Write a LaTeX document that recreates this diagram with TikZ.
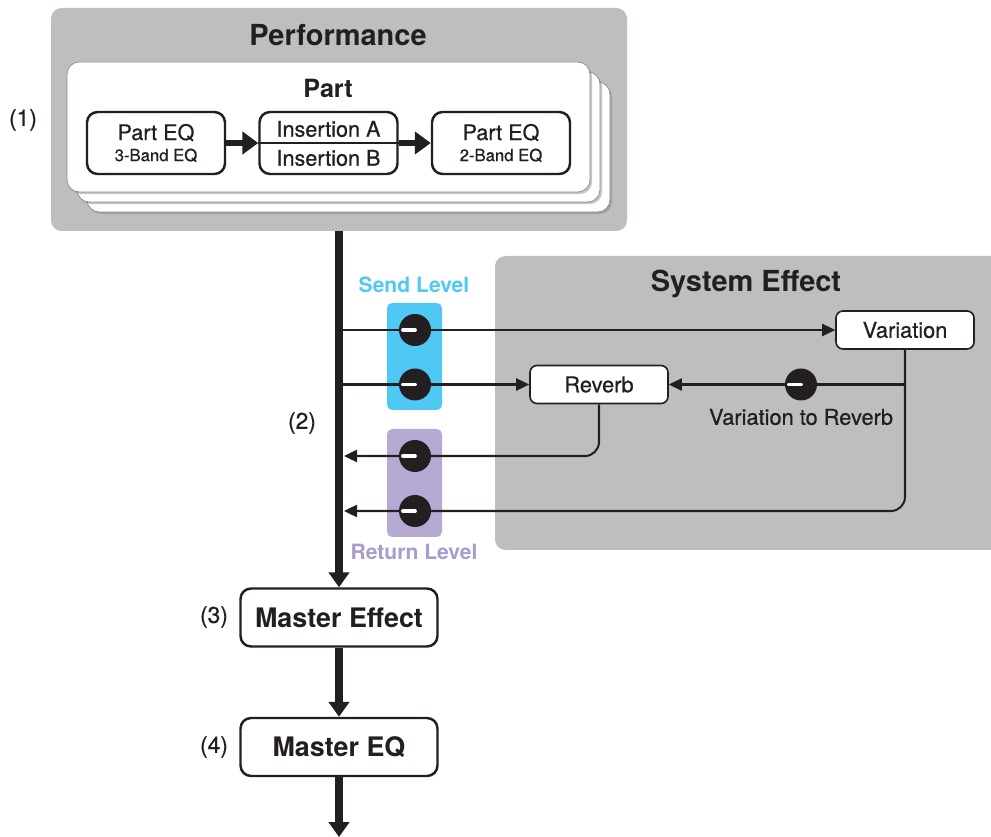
\documentclass[tikz,border=0pt]{standalone}
\usepackage{fontspec}
\setmainfont{TeX Gyre Heros}[FakeBold=0.6,BoldFont={TeX Gyre Heros Bold}]
\newfontfamily\heavy{TeX Gyre Heros Bold}
\usetikzlibrary{arrows.meta,shadows}
\definecolor{panelgray}{HTML}{BCBEC0}
\definecolor{ink}{HTML}{231F20}
\definecolor{sendblue}{HTML}{4FC9F3}
\definecolor{retpurple}{HTML}{B6AAD4}
\definecolor{retpurpletext}{HTML}{A89CCC}

\begin{document}
\begin{tikzpicture}[x=0.02cm,y=-0.02cm,
  every node/.style={text=ink},
  panel/.style={fill=panelgray,rounded corners=6pt,inner sep=0pt},
  card/.style={fill=white,draw=black!45,line width=0.4pt,rounded corners=7pt,
    drop shadow={shadow xshift=1.2pt,shadow yshift=-1.2pt,opacity=0.45},
    minimum width=523*0.02cm,minimum height=130*0.02cm,inner sep=0pt},
  fxbox/.style={draw=ink,fill=white,line width=1.4pt,rounded corners=6pt,
    minimum width=138*0.02cm,minimum height=62*0.02cm,inner sep=0pt,align=center,
    font=\fontsize{12.3}{13}\selectfont},
  sysbox/.style={draw=ink,fill=white,line width=0.9pt,rounded corners=4pt,
    minimum width=138*0.02cm,minimum height=38*0.02cm,inner sep=0pt,
    font=\fontsize{12.4}{13}\selectfont},
  masterbox/.style={draw=ink,fill=white,line width=1.4pt,rounded corners=6pt,
    minimum width=197*0.02cm,minimum height=58*0.02cm,inner sep=0pt,
    font=\heavy\fontsize{15.3}{16}\selectfont},
  num/.style={font=\fontsize{13}{14}\selectfont},
  knob/.style={circle,fill=ink,minimum size=32*0.02cm,inner sep=0pt,
    path picture={\draw[white,line width=2.2pt,line cap=round]
      (path picture bounding box.center) -- ++(-12*0.02cm,0);}},
  fatline/.style={draw=ink,line width=4pt,-{Triangle[length=8.5pt,width=11.5pt]}},
  fatlink/.style={draw=ink,line width=3.4pt,-{Triangle[length=9pt,width=12.5pt]}},
  sig/.style={draw=ink,line width=1.15pt,-{Triangle[length=7.5pt,width=7pt]}},
  ]
  \useasboundingbox (0,0) rectangle (991,837);
  % panels
  \node[panel,minimum width=576*0.02cm,minimum height=223*0.02cm] (perf) at (339,119.5) {};
  \node[font=\heavy\fontsize{16.5}{17}\selectfont] (perftitle) at (338,35) {Performance};
  \node[panel,minimum width=520*0.02cm,minimum height=294*0.02cm] (sys) at (755,403) {};
  \node[font=\heavy\fontsize{16.5}{17}\selectfont] (systitle) at (746,284) {System Effect};
  % stacked parts
  \foreach \k in {2,1,0}
    \node[card] (card\k) at (328.5+10*\k,127+10*\k) {};
  \node[font=\heavy\fontsize{14.3}{15}\selectfont] (parttitle) at (328,88) {Part};
  \node[fxbox] (peq1) at (156,143) {Part EQ\\[-1pt]{\fontsize{9.5}{10}\selectfont 3-Band EQ}};
  \node[fxbox] (ins) at (328.5,143) {};
  \draw[ink,line width=0.7pt] (ins.west) -- (ins.east);
  \node (insA) at (328.5,129) {\fontsize{12.3}{13}\selectfont Insertion A};
  \node (insB) at (328.5,158) {\fontsize{12.3}{13}\selectfont Insertion B};
  \node[fxbox] (peq2) at (501,143) {Part EQ\\[-1pt]{\fontsize{9.5}{10}\selectfont 2-Band EQ}};
  \draw[fatlink] (peq1) -- (ins);
  \draw[fatlink] (ins) -- (peq2);
  \node[num] (n1) at (23,120) {(1)};
  % send / return levels
  \node[fill=sendblue,rounded corners=3pt,minimum width=55*0.02cm,minimum height=107*0.02cm,inner sep=0pt] (sendbg) at (414.5,356.5) {};
  \node[fill=retpurple,rounded corners=3pt,minimum width=55*0.02cm,minimum height=108*0.02cm,inner sep=0pt] (retbg) at (414.5,483) {};
  \node[text=sendblue,font=\heavy\fontsize{12}{13}\selectfont] (sendlbl) at (414,285) {Send Level};
  \node[text=retpurpletext,font=\heavy\fontsize{12}{13}\selectfont] (retlbl) at (414,552) {Return Level};
  % system effect blocks
  \node[sysbox] (var) at (905,330) {Variation};
  \node[sysbox] (rev) at (599,384.5) {Reverb};
  \node[font=\fontsize{12.4}{13}\selectfont] (v2rlbl) at (801,417) {Variation to Reverb};
  % master chain
  \node[masterbox] (mfx) at (339,617.5) {Master Effect};
  \node[masterbox] (meq) at (339,747) {Master EQ};
  \node[num] (n2) at (302,423) {(2)};
  \node[num] (n3) at (214,617) {(3)};
  \node[num] (n4) at (214,747) {(4)};
  \coordinate (out) at (339,837);
  % main signal path
  \draw[fatline] (perf.south) -- (mfx.north);
  \draw[fatline] (mfx.south) -- (meq.north);
  \draw[fatline] (meq.south) -- (out);
  % sends
  \coordinate (s1) at (339,330);
  \coordinate (s2) at (339,384.5);
  \coordinate (r1) at (344,456);
  \coordinate (r2) at (344,511);
  \draw[sig] (s1) -- (var.west);
  \draw[sig] (s2) -- (rev.west);
  \draw[sig,rounded corners=8pt] (rev.south) |- (r1);
  \draw[sig,rounded corners=8pt] (var.south) |- (r2);
  \draw[sig] (var.south |- rev.east) -- (rev.east);
  % knobs
  \node[knob] (ks1) at (415,330) {};
  \node[knob] (ks2) at (415,384.5) {};
  \node[knob] (kr1) at (415,456) {};
  \node[knob] (kr2) at (415,511) {};
  \node[knob] (kv2r) at (801,384.5) {};
\end{tikzpicture}
\end{document}
